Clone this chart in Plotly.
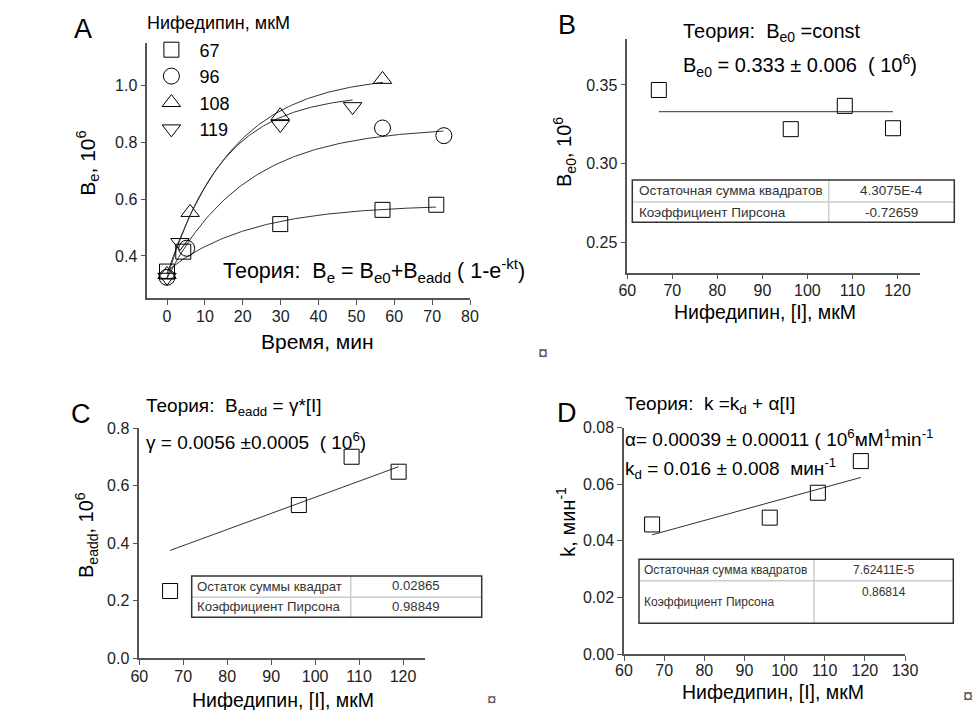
import numpy as np
import plotly.graph_objects as go

W, H = 976, 710

# ---------------- data ----------------
conc_labels = ["67", "96", "108", "119"]
conc = [67, 96.3, 108.3, 119]

# Panel A: Be(t) measurements
t_67 = [0, 4.3, 29.9, 56.9, 71.1]
be_67 = [0.345, 0.415, 0.512, 0.562, 0.580]
t_96 = [0, 5.2, 56.9, 73.1]
be_96 = [0.325, 0.427, 0.850, 0.823]
t_108 = [0, 6.1, 29.9, 56.9]
be_108 = [0.335, 0.553, 0.893, 1.021]
t_119 = [0, 3.4, 29.9, 49.0]
be_119 = [0.325, 0.447, 0.862, 0.925]

# Fitted parameters (panels B, C, D)
be0 = [0.3468, 0.3219, 0.3367, 0.3225]
beadd = [0.234, 0.533, 0.701, 0.649]
kval = [0.0458, 0.0482, 0.0570, 0.0682]
t_end = [71, 73, 57, 49]

be0_const = 0.333
gamma = 0.0056
alpha = 0.00039
kd = 0.016

tabB_labels = ["Остаточная сумма квадратов", "Коэффициент Пирсона"]
tabB_values = ["4.3075E-4", "-0.72659"]
tabC_labels = ["Остаток суммы квадрат", "Коэффициент Пирсона"]
tabC_values = ["0.02865", "0.98849"]
tabD_labels = ["Остаточная сумма квадратов", "Коэффициент Пирсона"]
tabD_values = ["7.62411E-5", "0.86814"]

# ---------------- helpers (page pixels -> paper fractions) ----------------
def px(x):
    return x / W

def py(y):
    return 1 - y / H

FONT = "Liberation Sans, Arial, sans-serif"
AXC = "#555555"
LINEC = "#333333"

fig = go.Figure()

# Panel A
series = [(t_67, be_67, "square-open"), (t_96, be_96, "circle-open"),
          (t_108, be_108, "triangle-up-open"), (t_119, be_119, "triangle-down-open")]
sizes = [15, 16, 16, 16]
for i, (tt, bb, sym) in enumerate(series):
    tc = np.linspace(0, t_end[i], 120)
    yc = be0[i] + beadd[i] * (1 - np.exp(-kval[i] * tc))
    fig.add_trace(go.Scatter(x=tc, y=yc, mode="lines", line=dict(color=LINEC, width=1),
                             showlegend=False, xaxis="x", yaxis="y", hoverinfo="skip"))
for i, (tt, bb, sym) in enumerate(series):
    fig.add_trace(go.Scatter(x=tt, y=bb, mode="markers", name=conc_labels[i],
                             marker=dict(symbol=sym, size=sizes[i], color="black",
                                         line=dict(width=1, color="black")),
                             xaxis="x", yaxis="y"))

# Panel B
fig.add_trace(go.Scatter(x=[conc[0], conc[-1]], y=[be0_const, be0_const], mode="lines",
                         line=dict(color=LINEC, width=1), showlegend=False, xaxis="x2", yaxis="y2"))
fig.add_trace(go.Scatter(x=conc, y=be0, mode="markers", showlegend=False,
                         marker=dict(symbol="square-open", size=15, color="black", line=dict(width=1)),
                         xaxis="x2", yaxis="y2"))

# Panel C
fig.add_trace(go.Scatter(x=[conc[0], conc[-1]], y=[gamma * conc[0], gamma * conc[-1]], mode="lines",
                         line=dict(color=LINEC, width=1), showlegend=False, xaxis="x3", yaxis="y3"))
fig.add_trace(go.Scatter(x=conc, y=beadd, mode="markers", showlegend=False,
                         marker=dict(symbol="square-open", size=15, color="black", line=dict(width=1)),
                         xaxis="x3", yaxis="y3"))

# Panel D
fig.add_trace(go.Scatter(x=[conc[0], conc[-1]], y=[kd + alpha * conc[0], kd + alpha * conc[-1]],
                         mode="lines", line=dict(color=LINEC, width=1), showlegend=False,
                         xaxis="x4", yaxis="y4"))
fig.add_trace(go.Scatter(x=conc, y=kval, mode="markers", showlegend=False,
                         marker=dict(symbol="square-open", size=15, color="black", line=dict(width=1)),
                         xaxis="x4", yaxis="y4"))

def ax(domain, rng, tickvals, fmt=None, anchor=None, standoff=0):
    d = dict(domain=domain, range=rng, tickvals=tickvals, showline=True, linecolor=AXC,
             linewidth=1.5, ticks="outside", ticklen=5, tickcolor=AXC, tickwidth=1.2,
             showgrid=False, zeroline=False, tickfont=dict(size=16, color="#222222", family=FONT),
             anchor=anchor, fixedrange=True, automargin=False, ticklabelstandoff=standoff)
    if fmt:
        d["tickformat"] = fmt
    return d

fig.update_layout(
    xaxis=ax([px(147.3), px(470)], [-5.2, 80], list(range(0, 81, 10)), anchor="y", standoff=-2),
    yaxis=ax([py(298), py(42.7)], [0.252, 1.15], [0.4, 0.6, 0.8, 1.0], ".1f", anchor="x"),
    xaxis2=ax([px(627.3), px(920)], [60, 125], list(range(60, 121, 10)), anchor="y2", standoff=-3),
    yaxis2=ax([py(272.7), py(39.3)], [0.2307, 0.379], [0.25, 0.30, 0.35], ".2f", anchor="x2"),
    xaxis3=ax([px(139.3), px(425)], [60, 125], list(range(60, 121, 10)), anchor="y3", standoff=-2),
    yaxis3=ax([py(658.3), py(428.3)], [0, 0.8], [0, 0.2, 0.4, 0.6, 0.8], ".1f", anchor="x3"),
    xaxis4=ax([px(624), px(905)], [60, 130], list(range(60, 131, 10)), anchor="y4", standoff=-4),
    yaxis4=ax([py(654), py(427.7)], [0, 0.08], [0, 0.02, 0.04, 0.06, 0.08], ".2f", anchor="x4"),
)

annotations = []

def txt(x, y, s, size=19, xanchor="left", angle=0, color="black"):
    annotations.append(dict(x=px(x), y=py(y), xref="paper", yref="paper", text=s, showarrow=False,
                            xanchor=xanchor, yanchor="middle", textangle=angle, borderpad=0,
                            font=dict(size=size, color=color, family=FONT)))

# panel letters
txt(82.7, 29.3, "A", 27, "center")
txt(567.3, 25, "B", 27, "center")
txt(80.7, 414.3, "C", 27, "center")
txt(566.7, 413.3, "D", 27, "center")

# axis titles
txt(317, 341.7, "Время, мин", 21, "center")
txt(86.7, 163, "B<sub>e</sub>, 10<sup>6</sup>", 21, "center", -90)
txt(765, 311.7, "Нифедипин, [I], мкМ", 19.5, "center")
txt(565, 152, "B<sub>e0</sub>, 10<sup>6</sup>", 20, "center", -90)
txt(283, 700, "Нифедипин, [I], мкМ", 19.5, "center")
txt(86, 535, "B<sub>eadd</sub>, 10<sup>6</sup>", 20, "center", -90)
txt(772.8, 691.5, "Нифедипин, [I], мкМ", 19.5, "center")
txt(566, 521.7, "k, мин<sup>-1</sup>", 20, "center", -90)

# legend title
txt(146, 23, "Нифедипин, мкМ", 18)

# theory texts
txt(222, 271, "Теория:  B<sub>e</sub> = B<sub>e0</sub>+B<sub>eadd</sub> ( 1-e<sup>-kt</sup>)", 21.5)
txt(682, 32, "Теория:  B<sub>e0</sub> =const", 20)
txt(682, 66, "B<sub>e0</sub> = 0.333 ± 0.006  ( 10<sup>6</sup>)", 20)
txt(145, 407, "Теория:  B<sub>eadd</sub> = γ*[I]", 19)
txt(145, 441, "γ = 0.0056 ±0.0005  ( 10<sup>6</sup>)", 19)
txt(624, 405, "Теория:  k =k<sub>d</sub> + α[I]", 19)
txt(624, 438, "α= 0.00039 ± 0.00011 ( 10<sup>6</sup>мМ<sup>1</sup>min<sup>-1</sup>", 19)
txt(624, 468, "k<sub>d</sub> = 0.016 ± 0.008  мин<sup>-1</sup>", 19)

shapes = []

def table(x0, x1, y0, y1, xs, ys, labels, values, lab_x, val_x, lab_y, val_y, fs):
    shapes.append(dict(type="line", xref="paper", yref="paper", x0=px(xs), x1=px(xs),
                       y0=py(y0), y1=py(y1), line=dict(color="#cccccc", width=1.5)))
    shapes.append(dict(type="line", xref="paper", yref="paper", x0=px(x0), x1=px(x1),
                       y0=py(ys), y1=py(ys), line=dict(color="#cccccc", width=1.5)))
    shapes.append(dict(type="rect", xref="paper", yref="paper", x0=px(x0), x1=px(x1),
                       y0=py(y0), y1=py(y1), line=dict(color="#333333", width=1.5)))
    for i in range(2):
        txt(lab_x, lab_y[i], labels[i], fs, "left", color="#333333")
        txt(val_x, val_y[i], values[i], fs, "center", color="#333333")

table(632.3, 954.3, 180, 222.3, 828.7, 202, tabB_labels, tabB_values, 637.5, 891.5,
      [191, 212], [191, 212], 13.5)
table(191.7, 481.7, 576, 617.3, 350.7, 597.3, tabC_labels, tabC_values, 196, 416,
      [586.5, 606.5], [585.5, 606], 13.2)
table(639, 953.3, 559.3, 623.3, 814, 580.7, tabD_labels, tabD_values, 642.7, 883.7,
      [570, 601.7], [570, 591.7], 12)

# stray symbols
txt(542.7, 353, "¤", 18, "center", color="#555555")
txt(491.7, 699, "¤", 17, "center", color="#555555")
txt(968, 696, "¤", 18, "center", color="#555555")

fig.update_layout(
    width=W, height=H, margin=dict(l=0, r=0, t=0, b=0, pad=0), autosize=False,
    paper_bgcolor="white", plot_bgcolor="white",
    font=dict(family=FONT, color="black"),
    annotations=annotations, shapes=shapes,
    legend=dict(x=px(143.4), y=py(31.5), xanchor="left", yanchor="top",
                font=dict(size=18, family=FONT, color="black"), bgcolor="rgba(0,0,0,0)",
                tracegroupgap=0, itemwidth=46),
)

fig.write_html("out.html")
